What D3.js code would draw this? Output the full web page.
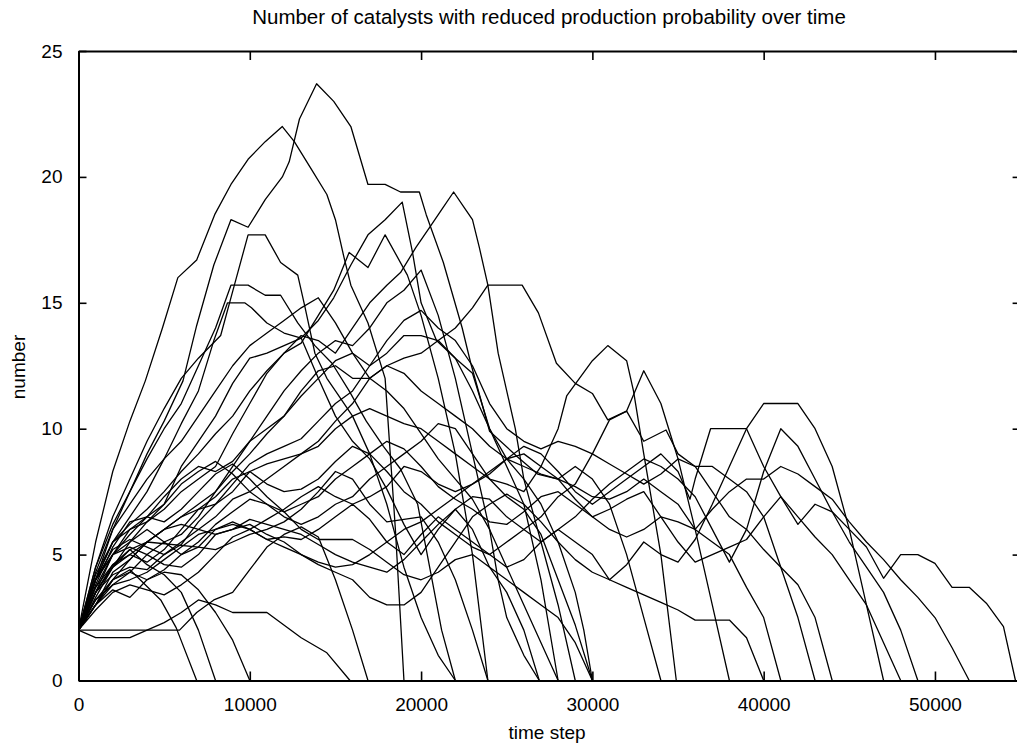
<!DOCTYPE html>
<html>
<head>
<meta charset="utf-8">
<script src="https://cdn.jsdelivr.net/npm/d3@7"></script>
<style>
	body { margin: 0; background: #fff; }
	svg { display: block; }
	text { font-family: "Liberation Sans", Arial, sans-serif; fill: #000; }
</style>
</head>
<body>
<div id="chart"></div>
<script>
'use strict'

// each run: [time step / 1000, number of catalysts]
var run01 = [[0,2],[1,4],[2,6],[3,7.5],[4,9],[5,10.3],[6.1,11.9],[6.9,14.1],[7.9,16.5],[8.9,18.3],[9.9,18],[10.9,19.1],[11.9,20],[12.3,20.6],[12.9,22.3],[13.9,23.7],[14.9,23],[15.9,22],[16.9,19.7],[17.9,19.7],[18.8,19.4],[19.9,19.4],[20.3,18.5],[21.3,16.6],[22.4,14],[22.9,12.6],[24,9.9],[25.6,8.9],[26.8,8.2],[28,8],[29,8.5],[30,8],[31,7],[32,5],[33,2.5],[34,0]];
var run02 = [[0,2],[1,5.5],[2,8.3],[3,10.3],[3.9,11.9],[4.9,14],[5.8,16],[6.9,16.7],[7.95,18.5],[8.9,19.7],[9.9,20.7],[10.9,21.4],[11.9,22],[12.6,21.4],[13.6,20.3],[14.5,19.3],[15,18.3],[15.5,16.8],[15.9,15.7],[16.9,14.2],[17.9,12],[18.5,6],[19,0]];
var run03 = [[0,2],[1,4],[2,5],[3,5.5],[4,6.3],[5,6.8],[6,7.5],[7,8],[8,8.5],[9,9.8],[10,11],[11,12.2],[12,13],[13,13.7],[14,13.5],[15,13],[16,14],[17,15],[18,15.7],[18.8,16.2],[19.7,17.2],[20.5,18],[21.3,18.8],[21.9,19.4],[22.5,18.8],[23,18.3],[23.4,17.2],[23.9,15.7],[24.5,13],[25.5,10],[26,8],[27,5.5],[28,3],[29,0]];
var run04 = [[0,2],[1,3.5],[2,5],[3,6],[4,6.5],[5,7],[6,8.5],[7,9.5],[8,10.5],[9,11.8],[10,12.8],[11,13],[12,13.3],[13,13.6],[14,14.3],[14.9,15.2],[15.9,16.5],[16.9,17.7],[17.9,18.3],[18.9,19],[19.5,17],[20,15],[20.9,13.5],[22,12.8],[23,12.2],[24,10],[25,8.5],[26,7],[27,4],[28,0]];
var run05 = [[0,2],[1,4],[2,5.5],[3,6.2],[4,6.8],[5,7.5],[6,8.3],[7,9],[8,9.8],[9,10.5],[10,11.5],[11,12.3],[12,13],[13,13.4],[14,14.5],[14.9,15.5],[15.8,17],[16.9,16.4],[17.9,17.7],[19.2,16.1],[20,14.5],[21,12],[22,9],[23,5],[23.9,0]];
var run06 = [[0,2],[1,4.5],[2,6.5],[3,8],[4,9.5],[5,10.8],[6,12],[7,12.8],[8.3,13.7],[9.1,15.7],[9.9,17.7],[10.9,17.7],[11.8,16.6],[12.8,16.1],[13.2,14.9],[13.8,13],[14.5,12],[15,11.5],[16,10.5],[17,9],[18,7],[19,4.5],[20,2.5],[21,1],[22,0]];
var run07 = [[0,2],[1,4.5],[2,6.2],[3,7.5],[4,8.8],[5,10],[6,11],[7,12.5],[8,14],[8.9,15.7],[9.9,15.7],[10.9,15.3],[11.8,15.3],[12.8,14.2],[13.8,13.3],[14.8,12.6],[15.8,11.5],[16.8,10.3],[17.8,9.3],[18.8,8.4],[19.8,7],[20.5,4.5],[21.2,2],[22,0]];
var run08 = [[0,2],[1,4],[2,5.5],[3,6.5],[4,7.5],[5,8.8],[6,10.2],[7,11.5],[7.9,13.5],[8.7,15],[9.7,15],[10.1,14.8],[11,14.2],[12,13.8],[13,13.6],[14,12],[15,10.5],[16,9.5],[17,8.8],[18,7.6],[19,6.2],[20,5],[21,6],[22,6.8],[23,6],[24,4.5],[25,3.5],[26,2],[26.9,0]];
var run09 = [[0,2],[1,3.5],[2,4.5],[3,5.5],[4,6],[5,5.5],[6,5.8],[7,6.5],[8,7.5],[9,8.5],[10,9.5],[11,10],[12,10.5],[13,11.5],[14,12.3],[15,12.5],[16,12],[17,12],[18,12.5],[19,12.8],[20,13],[21,13.5],[22,14],[23,14.8],[23.9,15.7],[24.9,15.7],[25.9,15.7],[26.85,14.6],[27.9,12.6],[29,11.8],[30,11.4],[30.9,10.35],[32,10.7],[33,9.5],[34.3,9.95],[35,9],[36,8.5],[37,7.5],[38,6.5],[39,6],[40,5.2],[41,4.5],[42,3.8],[43,2.5],[44,0]];
var run10 = [[0,2],[1,4.3],[2,6],[3,7],[4,8],[5,8.8],[6,9.5],[7,10.5],[8,11.5],[9,12.5],[10,13.3],[11,13.8],[12,14.3],[13,14.8],[14,15.2],[15,14.2],[16,13],[17,12],[18,11.5],[19,10.8],[20,9.8],[21,8.8],[22,8],[23,7.2],[24,6],[25,4.5],[26,3],[27,1.5],[28,0]];
var run11 = [[0,2],[1,3.7],[2,5],[3,5.8],[4,6.5],[5,7.3],[6,8],[7,8.5],[8,8.3],[9,8.7],[10,9.5],[11,10.5],[12,11.5],[13,12.3],[14,13],[15,13.5],[16,13.3],[17,14],[18,15],[19,15.5],[20,16.3],[21,14.5],[22,12],[23,9],[24,6],[24.5,4],[25,2.5],[26,1],[26.9,0]];
var run12 = [[0,2],[1,3.3],[2,4.5],[3,5],[4,5.5],[5,6],[6,6.5],[7,7],[8,7.5],[9,8.3],[10,9],[11,9.8],[12,10.5],[13,11.3],[14,12],[15,12.7],[16,13],[17,12.5],[18,13],[19,13.7],[20,13.7],[21,13.5],[22,12.8],[23,11.5],[24,10],[25,8.8],[26,8],[27,7],[28,5.5],[29,3.5],[29.5,2],[30,0]];
var run13 = [[0,2],[1,3.5],[2,4.2],[3,4.5],[4,4.4],[5,5],[6,5.5],[7,6],[8,6.5],[9,7.2],[10,7.5],[11,8],[12,8.5],[13,9],[14,9.3],[15,10],[16,10.5],[17,10.8],[18,10.5],[19,10.2],[20,10],[21,9.5],[22,9],[23,8.5],[24,8],[25,7.8],[26,7.5],[27,8.5],[28,10],[28.5,11.3],[30,12.7],[30.9,13.3],[32,12.7],[32.4,11.5],[33,9],[34,5],[34.9,0]];
var run14 = [[0,2],[1,3],[2,4],[3,4.8],[4,5.5],[5,6],[6,6.5],[7,6.8],[8,7.3],[9,8],[10,8.3],[11,7.8],[12,7.5],[13,7.6],[14,8],[15,8.7],[16,9.3],[17,9],[18,8.3],[19,7.5],[20,7],[21,6.3],[22,5.8],[23,5.3],[24,5],[25,5.5],[26,6],[27,6.5],[28,7.3],[29,7.8],[30,9],[31,10.35],[32,10.7],[33,12.3],[34,11],[34.5,9.9],[35,8.8],[36,6],[37,3],[38,0]];
var run15 = [[0,2],[1,3],[2,3.8],[3,4.3],[4,5],[5,5.5],[6,5],[7,5.3],[8,6],[9,6.3],[10,6],[11,5.6],[12,5.7],[13,5.6],[14,6],[15,6.5],[16,7],[17,6.4],[18,5.5],[19,5],[20,5.8],[21,6.5],[22,6],[23,5.5],[24,5],[25,4.5],[26,4.8],[27,5.5],[28,6],[29,5.5],[30,5],[31,4],[32,4.6],[33,5.5],[34,5],[35,4.7],[36,5.6],[37,7],[38,8.5],[39,10],[40,11],[42,11],[43,10],[44,8.5],[45,6],[46,3],[47,0]];
var run16 = [[0,2],[1,3.2],[2,3.8],[3,4],[4,4.3],[5,4.8],[6,5.3],[7,5.8],[8,6],[9,6.2],[10,6],[11,6.4],[12,6.8],[13,7.3],[14,7.7],[15,7.3],[16,7],[17,7.3],[18,7.7],[19,8.5],[20,8.3],[21,7.8],[22,7.5],[23,7.8],[24,8.3],[25,8.8],[26,9.3],[27,9],[28,8.3],[29,7.5],[30,7],[31,7.5],[32,8],[33,8.5],[34,9],[35,8.3],[35.7,7.2],[36,8],[36.9,10],[39,10],[40,8.5],[41,7.3],[42,6.5],[43,5.7],[44,5],[45,4],[46,3],[47,1.5],[48,0]];
var run17 = [[0,2],[1,3.5],[2,4.5],[3,5.2],[4,5.5],[5,6],[6,6.2],[7,6],[8,5.8],[9,6],[10,6.4],[11,6.2],[12,6],[13,5.8],[14,5.4],[15,5],[16,4.7],[17,4.5],[18,4.3],[19,4.8],[20,5.5],[21,6.2],[22,6.8],[23,7.3],[24,7.2],[25,6.5],[26,6],[27,5.5],[28,6],[29,6.5],[30,7.2],[31,7.8],[32,8.3],[33,8.8],[34,8.5],[35,8],[36,7.3],[37,6],[38,4.7],[39,6],[40,8.3],[41,10],[42,9.3],[43,8],[44,6.7],[45,5.5],[46,4.5],[47,3.5],[48,2],[49,0]];
var run18 = [[0,2],[1,2.8],[2,3.5],[3,3.8],[4,3.6],[5,3.4],[6,3.8],[7,4.3],[8,5],[9,5.7],[10,6],[11,5.6],[12,5.3],[13,5],[14,4.7],[15,4.5],[16,4.6],[17,5],[18,5.5],[19,6],[20,6.3],[21,6.8],[22,7.3],[23,7.8],[24,8.2],[25,8.8],[26,9],[27,8.5],[28,8],[29,7.2],[30,6.5],[31,6.8],[32,7.2],[33,7.5],[34,6.5],[35,5.5],[36,4.7],[37,5],[38,5.3],[39,5.6],[40,6.5],[41,7.3],[42,6.2],[43,7],[44,6.7],[45,6],[46,5.3],[47,4.06],[48,5],[49,5],[50,4.65],[51,3.7],[52,3.7],[53,3.07],[54,2.14],[54.7,0]];
var run19 = [[0,2],[1,3],[2,4],[3,4.3],[4,4],[5,4.4],[6,5],[7,5.5],[8,6.2],[9,6.7],[10,7.2],[11,7],[12,6.7],[13,7],[14,7.3],[15,8],[16,8.5],[17,9],[18,9.5],[19,9.2],[20,8.5],[21,7.7],[22,7.2],[23,6.8],[24,6.3],[25,6.2],[26,6.7],[27,7.3],[28,7.5],[29,7],[30,6.5],[31,6],[32,5.7],[33,6],[34,6.5],[35,6.3],[36,6],[37,6.8],[38,7.5],[39,8],[40,8],[41,8.5],[42,8.2],[43,7.7],[44,7.2],[45,6.3],[46,5.5],[47,4.8],[48,4],[49,3.3],[50,2.5],[51,1.3],[52,0]];
var run20 = [[0,2],[1,4],[2,5],[3,5.3],[4,5],[5,4.6],[6,4.5],[7,5],[8,5.8],[9,6],[10,6.2],[11,5.8],[12,5.5],[13,5],[14,4.6],[15,4.3],[16,4],[17,3.3],[18,3],[19,3],[20,3.5],[21,4.5],[22,5.5],[23,6.5],[24,7],[25,7.4],[26,7],[27,6.3],[28,5.5],[29,4.8],[30,4.3],[31,4],[32,3.7],[33,3.4],[34,3.1],[35,2.8],[36,2.4],[38,2.4],[39,1.7],[40,0]];
var run21 = [[0,2],[1,3.7],[2,4.6],[3,5],[4,4.7],[5,5.2],[6,6],[7,6.8],[8,7],[9,7.5],[10,8.3],[11,8.6],[12,8.8],[13,9],[14,9.5],[15,10.3],[16,11],[17,12],[18,12.5],[19,12.2],[20,11.5],[21,11],[22,10.5],[23,10],[24,9.3],[25,8.8],[26,8.5],[27,8.2],[28,8],[29,7.7],[30,7.3],[31,7.2],[32,7.5],[33,8],[34,7.5],[35,7],[36,6],[37,5.5],[38,5],[39,3.7],[40,2.5],[41,0]];
var run22 = [[0,2],[1,4],[2,5.2],[3,5.6],[4,5.3],[5,5],[6,5.4],[7,6.3],[8,7],[9,7.8],[10,8.6],[11,9],[12,9.3],[13,9.6],[14,10.3],[15,11],[16,11.5],[17,12.5],[18,13.5],[19,14.3],[20,14.7],[21,14],[22,13.5],[23,12.5],[24,11],[25,10],[26,9.5],[27,9.2],[28,9.5],[29,9.3],[30,9],[31,8.6],[32,8.2],[33,7.8],[34,8.2],[35,8.8],[36,8.5],[37,8.5],[38,8],[39,7.5],[40,6.5],[41,4.5],[42,2.5],[43,0]];
var run23 = [[0,2],[1,3.2],[2,4],[3,4.4],[3.6,4],[4.8,3.2],[5.7,2.1],[6.9,0]];
var run24 = [[0,2],[1,3.5],[2,4.6],[3,5.2],[4,4.6],[5,4.2],[6,3.5],[7,2],[8,0]];
var run25 = [[0,2],[1,3],[2,3.6],[3,3.3],[4,4],[5,4.3],[6,4.2],[7,3.6],[8,2.7],[9,1.6],[10,0]];
var run26 = [[0,2],[1,1.7],[3,1.7],[4,2],[5,2.3],[6,2.7],[7,3.2],[8,3],[9,2.7],[11,2.7],[13,1.7],[14.5,1.1],[15.85,0]];
var run27 = [[0,2],[5.9,2],[6.9,2.7],[7.9,3.2],[9,3.5],[10,4.4],[11,5.3],[12,5.8],[13,6.1],[14,5.7],[15,4],[16,2],[16.9,0]];
var run28 = [[0,2],[1,3.8],[2,5.3],[3,6.3],[4,6.5],[5,6.3],[6,6.8],[7,7.5],[8,8.2],[9,8.6],[10,8],[11,7.3],[12,6.7],[13,6],[14,5.6],[16,5.6],[17,5.2],[18,4.7],[19,4.2],[20,4],[21,4.3],[22,4.8],[23,5],[24,4.5],[25,4],[26,3.5],[27,3],[28,2.5],[29,1.5],[30,0]];
var run29 = [[0,2],[1,4.2],[2,5.5],[3,6],[4,6.3],[5,7],[6,7.8],[7,8.3],[8,8.7],[9,8.2],[10,7.5],[11,7],[12,6.5],[13,6.2],[14,6.5],[15,7],[16,7.3],[17,8],[18,8.5],[19,9],[20,9.5],[21,10.2],[22,10],[23,9],[24,8],[25,7.3],[26,6.8],[27,5.8],[28,4],[29,2.2],[30,0]];
var run30 = [[0,2],[1,3],[2,4.3],[3,4.8],[4,5.5],[7,5.3],[8,5.2],[9,5.5],[10,5.8],[11,6],[12,6.3],[13,6.8],[14,7.5],[15,8.3],[16,8],[17,7],[18,6.3],[20,6.5],[21,5.5],[22,4],[23,2],[23.9,0]];

var runs = [run01, run02, run03, run04, run05, run06, run07, run08, run09, run10,
	run11, run12, run13, run14, run15, run16, run17, run18, run19, run20,
	run21, run22, run23, run24, run25, run26, run27, run28, run29, run30];

var xTicks = [0, 10000, 20000, 30000, 40000, 50000];
var yTicks = [0, 5, 10, 15, 20, 25];

var title = 'Number of catalysts with reduced production probability over time';

(function() {
	var width = 1017, height = 745;
	var left = 78.5, right = 1020.6, top = 51, bottom = 680.5;

	var svg = d3.select('#chart').append('svg')
		.attr('width', width)
		.attr('height', height);

	var x = d3.scaleLinear().domain([0, 55000]).range([left, right]);
	var y = d3.scaleLinear().domain([0, 25]).range([bottom, top]);

	svg.append('clipPath').attr('id', 'plot')
		.append('rect')
		.attr('x', left).attr('y', top)
		.attr('width', right - left).attr('height', bottom - top);

	var line = d3.line()
		.x(function(d) { return x(d[0] * 1000); })
		.y(function(d) { return y(d[1]); });

	svg.append('g')
		.attr('clip-path', 'url(#plot)')
		.selectAll('path')
		.data(runs)
		.enter().append('path')
		.attr('d', line)
		.attr('fill', 'none')
		.attr('stroke', '#000')
		.attr('stroke-width', 1.3)
		.attr('stroke-linejoin', 'round');

	// gnuplot style: ticks on all four sides, pointing in
	var xBottom = d3.axisBottom(x).tickValues(xTicks).tickSizeInner(-9).tickSizeOuter(0).tickPadding(17).tickFormat(d3.format('d'));
	var xTop = d3.axisTop(x).tickValues(xTicks).tickSizeInner(-9).tickSizeOuter(0).tickFormat('');
	var yLeft = d3.axisLeft(y).tickValues(yTicks).tickSizeInner(-8).tickSizeOuter(0).tickPadding(16);
	var yRight = d3.axisRight(y).tickValues(yTicks).tickSizeInner(-8).tickSizeOuter(0).tickFormat('');

	var axes = [
		[xBottom, 'translate(0,' + bottom + ')'],
		[xTop, 'translate(0,' + top + ')'],
		[yLeft, 'translate(' + left + ',0)'],
		[yRight, 'translate(' + right + ',0)']
	];
	axes.forEach(function(a) {
		var g = svg.append('g').attr('transform', a[1]).call(a[0]);
		g.select('.domain').attr('stroke-width', 2);
		g.selectAll('.tick line').attr('stroke-width', 1.6);
		g.selectAll('text').attr('font-size', 19).attr('font-family', '"Liberation Sans", Arial, sans-serif');
	});

	svg.append('text')
		.attr('x', 549).attr('y', 24)
		.attr('text-anchor', 'middle')
		.attr('font-size', 20.5)
		.text(title);

	svg.append('text')
		.attr('x', 547).attr('y', 739)
		.attr('text-anchor', 'middle')
		.attr('font-size', 19)
		.text('time step');

	svg.append('text')
		.attr('transform', 'translate(25,367) rotate(-90)')
		.attr('text-anchor', 'middle')
		.attr('font-size', 19)
		.text('number');
})();
</script>
</body>
</html>
